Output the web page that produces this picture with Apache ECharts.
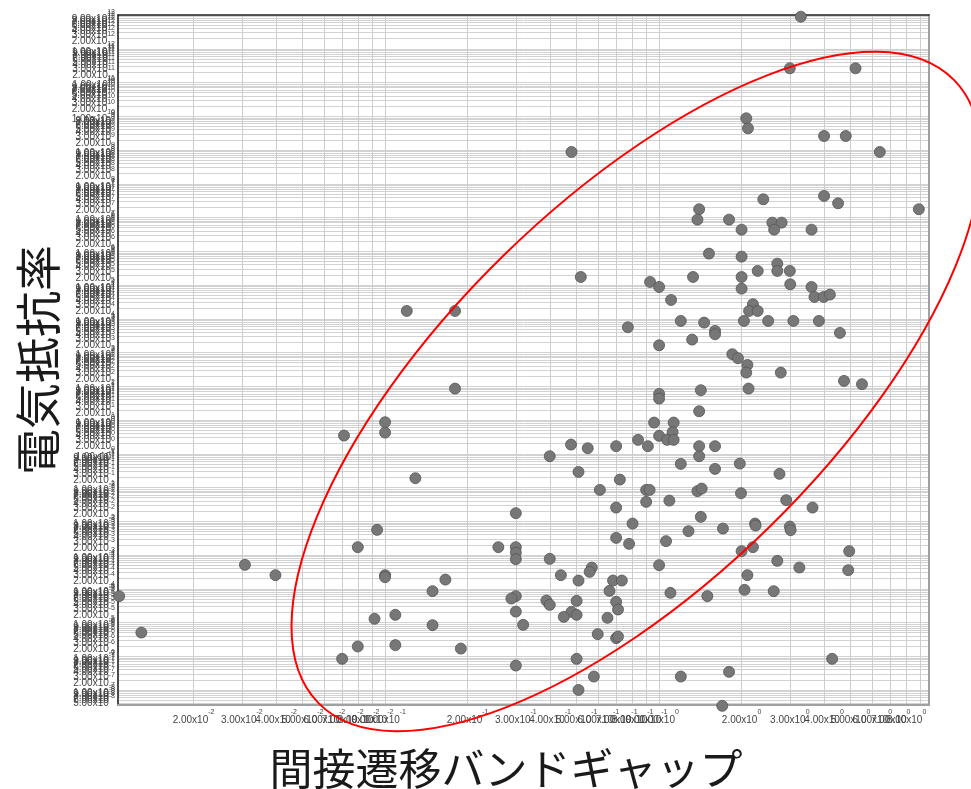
<!DOCTYPE html>
<html>
<head>
<meta charset="utf-8">
<script src="https://cdn.jsdelivr.net/npm/echarts@6/dist/echarts.min.js"></script>
<style>
  html, body { margin: 0; padding: 0; background: #ffffff; }
  #chart { width: 971px; height: 789px; }
</style>
</head>
<body>
<div id="chart"></div>
<script>
// Indirect band gap (eV) of each material
const bandGap = [
  0.12, 0.18, 3.29, 3.0, 5.21, 2.08, 2.11, 4.0, 4.8, 0.479,
  6.39, 2.40, 4.0, 4.5, 8.87, 1.40, 1.38, 1.80, 2.0, 2.59,
  2.80, 2.63, 3.60, 1.52, 2.0, 0.518, 1.33, 2.0, 2.0, 2.29,
  2.70, 2.70, 3.0, 3.01, 3.60, 3.69, 3.99, 4.20, 0.927, 1.0,
  1.106, 2.20, 2.13, 2.29, 2.04, 2.50, 3.09, 3.83, 4.57, 1.20,
  1.46, 1.60, 1.60, 0.769, 1.32, 1.0, 1.85, 1.94, 2.10, 2.08,
  2.12, 2.78, 4.73, 5.50, 1.0, 1.0, 1.42, 1.40, 0.959, 1.13,
  1.12, 1.0, 1.07, 1.13, 0.838, 0.910, 0.697, 0.477, 0.549, 0.399,
  1.40, 1.60, 1.40, 1.20, 1.60, 1.97, 2.75, 0.508, 0.719, 0.608,
  0.897, 0.923, 0.897, 1.09, 1.38, 1.43, 1.99, 2.91, 3.63, 0.697,
  0.800, 1.42, 1.28, 1.71, 2.24, 2.25, 3.0, 3.02, 0.697, 0.777,
  1.06, 2.0, 2.20, 4.94, 0.399, 1.0, 2.70, 3.25, 4.90, 0.438,
  0.568, 0.558, 0.508, 0.679, 0.731, 2.10, 0.659, 1.10, 1.50, 2.05,
  2.62, 0.388, 0.399, 0.500, 0.697, 0.708, 0.479, 0.500, 0.449, 0.648,
  0.319, 0.597, 0.697, 0.708, 0.500, 0.578, 0.508, 1.20, 1.80, 1.70,
  4.28, 0.18, 0.1, 0.1, 0.0708, 0.129, 0.3, 0.0935, 0.0795, 0.259,
  0.3, 0.3, 0.3, 0.0308, 0.0398, 0.1, 0.1, 0.166, 0.149, 0.0107,
  0.3, 0.289, 0.3, 0.0129, 0.109, 0.0915, 0.149, 0.0795, 0.109, 0.189,
  0.0697, 0.3
];

// Electrical resistivity of the same materials, in the same order
const resistivity = [
  1.7e4, 1.7e4, 8.9e12, 2.64e11, 2.64e11, 8.7e9, 4.4e9, 2.6e9, 2.6e9, 8.75e8,
  8.75e8, 3.47e7, 4.35e7, 2.64e7, 1.76e7, 1.76e7, 8.65e6, 8.65e6, 4.37e6, 7.05e6,
  7.05e6, 4.37e6, 4.37e6, 8.51e5, 6.93e5, 1.73e5, 1.73e5, 1.73e5, 7.82e4, 2.61e5,
  4.30e5, 2.61e5, 2.61e5, 1.05e5, 8.77e4, 4.44e4, 4.44e4, 5.19e4, 1.23e5, 8.77e4,
  3.61e4, 2.70e4, 1.7e4, 1.7e4, 8.63e3, 8.63e3, 8.63e3, 8.63e3, 3.81e3, 8.63e3,
  7.69e3, 4.36e3, 3.48e3, 5.61e3, 2.41e3, 1.64e3, 891, 678, 430, 254,
  85.3, 254, 144, 115, 59.4, 43.1, 76.4, 18.2, 8.39, 8.39,
  4.36, 3.39, 2.58, 2.58, 2.58, 1.68, 1.68, 1.87, 1.46, 0.847,
  1.68, 1.68, 0.847, 0.501, 0.356, 0.512, 0.254, 0.290, 0.172, 0.0851,
  0.0851, 0.0851, 0.0376, 0.0410, 0.078, 0.093, 0.0679, 0.0422, 0.0255, 0.0255,
  0.00855, 0.0135, 0.00509, 0.00608, 0.00855, 0.00746, 0.00697, 0.00545, 0.00322, 0.00214,
  0.00258, 0.0013, 0.00171, 0.0013, 7.69e-4, 5.01e-4, 6.71e-4, 4.26e-4, 3.56e-4, 2.53e-4,
  4.26e-4, 3.17e-4, 1.75e-4, 1.75e-4, 1.75e-4, 2.53e-4, 8.67e-5, 7.57e-5, 6.05e-5, 9.29e-5,
  8.51e-5, 4.48e-5, 3.34e-5, 4.38e-5, 4.10e-5, 2.43e-5, 2.07e-5, 1.69e-5, 1.47e-5, 1.38e-5,
  8.53e-6, 4.53e-6, 3.44e-6, 3.85e-6, 8.39e-7, 2.51e-7, 1.01e-7, 2.51e-7, 3.46e-7, 3.40e-8,
  8.39e-7, 85.3, 8.61, 4.24, 3.46, 0.189, 0.0174, 0.00556, 0.00171, 0.00171,
  0.00171, 0.00118, 7.53e-4, 5.11e-4, 2.53e-4, 2.53e-4, 2.21e-4, 1.87e-4, 8.51e-5, 6.05e-5,
  6.05e-5, 5.14e-5, 2.11e-5, 5.05e-6, 1.69e-5, 1.29e-5, 8.36e-6, 1.95e-6, 2.14e-6, 1.69e-6,
  8.39e-7, 5.32e-7
];

// Axis extents and tick layout (ticks at 1..9 x 10^n inside each decade)
const xRange = [0.0106, 9.66];
const yRange = [3.6e-8, 1e13];
const tickMantissas = [1, 2, 3, 4, 5, 6, 7, 8, 9];
const xDecades = [-2, -1, 0, 1];
const yDecades = [-8, -7, -6, -5, -4, -3, -2, -1, 0, 1, 2, 3, 4, 5, 6, 7, 8, 9, 10, 11, 12, 13];

// Highlighted region: centre (band gap, resistivity)
const regionCentre = [0.825, 70];

const lg = Math.log10;

function logTicks(decades, range) {
  const lo = lg(range[0]) - 1e-9, hi = lg(range[1]) + 1e-9;
  const out = [];
  decades.forEach(e => tickMantissas.forEach(k => {
    const v = lg(k) + e;
    if (v >= lo && v <= hi) out.push(v);
  }));
  return out;
}

function sciLabel(v) {
  const e = Math.floor(v + 1e-9);
  const k = Math.round(Math.pow(10, v - e));
  return '{m|' + k + '.00x10}{s|' + e + '}';
}

const labelRich = {
  m: { fontSize: 10, fontFamily: 'Liberation Sans', color: '#444', lineHeight: 16, verticalAlign: 'bottom' },
  s: { fontSize: 7, fontFamily: 'Liberation Sans', color: '#444', lineHeight: 9, verticalAlign: 'top' }
};

const xTicks = logTicks(xDecades, xRange);
const yTicks = logTicks(yDecades, yRange);

const points = bandGap.map((g, i) => [lg(g), lg(resistivity[i])]);

const chart = echarts.init(document.getElementById('chart'), null, { renderer: 'canvas' });

chart.setOption({
  animation: false,
  backgroundColor: '#ffffff',
  grid: { left: 118, right: 42, top: 15, bottom: 84, containLabel: false, outerBoundsMode: 'none' },
  xAxis: [
    {
      type: 'value',
      min: lg(xRange[0]),
      max: lg(xRange[1]),
      position: 'bottom',
      name: '間接遷移バンドギャップ',
      nameLocation: 'middle',
      nameGap: 42,
      nameTextStyle: {
        fontFamily: 'Noto Sans CJK JP', fontSize: 43, color: '#1a1a1a',
        verticalAlign: 'top', padding: [0, 35, 0, 0]
      },
      axisLine: { show: true, onZero: false, lineStyle: { color: '#a0a0a0', width: 2 } },
      axisTick: { show: false, customValues: xTicks },
      axisLabel: { customValues: xTicks, formatter: sciLabel, rich: labelRich, margin: 4 },
      splitLine: { show: true, lineStyle: { color: '#cdcdcd', width: 1 } }
    },
    {
      type: 'value',
      min: lg(xRange[0]),
      max: lg(xRange[1]),
      position: 'top',
      axisLine: { show: true, onZero: false, lineStyle: { color: '#222', width: 1.5 } },
      axisTick: { show: false },
      axisLabel: { show: false },
      splitLine: { show: false }
    }
  ],
  yAxis: [
    {
      type: 'value',
      min: lg(yRange[0]),
      max: lg(yRange[1]),
      position: 'left',
      name: '電気抵抗率',
      nameLocation: 'middle',
      nameRotate: 90,
      nameGap: 56,
      nameTextStyle: { fontFamily: 'Noto Sans CJK JP', fontSize: 46, color: '#1a1a1a' },
      axisLine: { show: true, onZero: false, lineStyle: { color: '#111', width: 1.5 } },
      axisTick: { show: false, customValues: yTicks },
      axisLabel: { customValues: yTicks, formatter: sciLabel, rich: labelRich, margin: 3 },
      splitLine: { show: true, lineStyle: { color: '#d2d2d2', width: 1 } }
    },
    {
      type: 'value',
      min: lg(yRange[0]),
      max: lg(yRange[1]),
      position: 'right',
      axisLine: { show: true, onZero: false, lineStyle: { color: '#a0a0a0', width: 2 } },
      axisTick: { show: false },
      axisLabel: { show: false },
      splitLine: { show: false }
    }
  ],
  series: [
    {
      type: 'scatter',
      xAxisIndex: 0,
      yAxisIndex: 0,
      clip: false,
      symbol: 'circle',
      symbolSize: 11,
      itemStyle: { color: '#777777', borderColor: '#555555', borderWidth: 0.8, opacity: 1 },
      data: points,
      z: 3
    },
    {
      type: 'custom',
      xAxisIndex: 0,
      yAxisIndex: 0,
      clip: false,
      silent: true,
      z: 5,
      data: [[lg(regionCentre[0]), lg(regionCentre[1])]],
      renderItem: function (params, api) {
        const c = api.coord([api.value(0), api.value(1)]);
        return {
          type: 'ellipse',
          shape: { cx: c[0], cy: c[1], rx: 445, ry: 190 },
          originX: c[0],
          originY: c[1],
          rotation: 44.4 * Math.PI / 180,
          style: { fill: 'none', stroke: '#ff0000', lineWidth: 2 }
        };
      }
    }
  ]
});
</script>
</body>
</html>
